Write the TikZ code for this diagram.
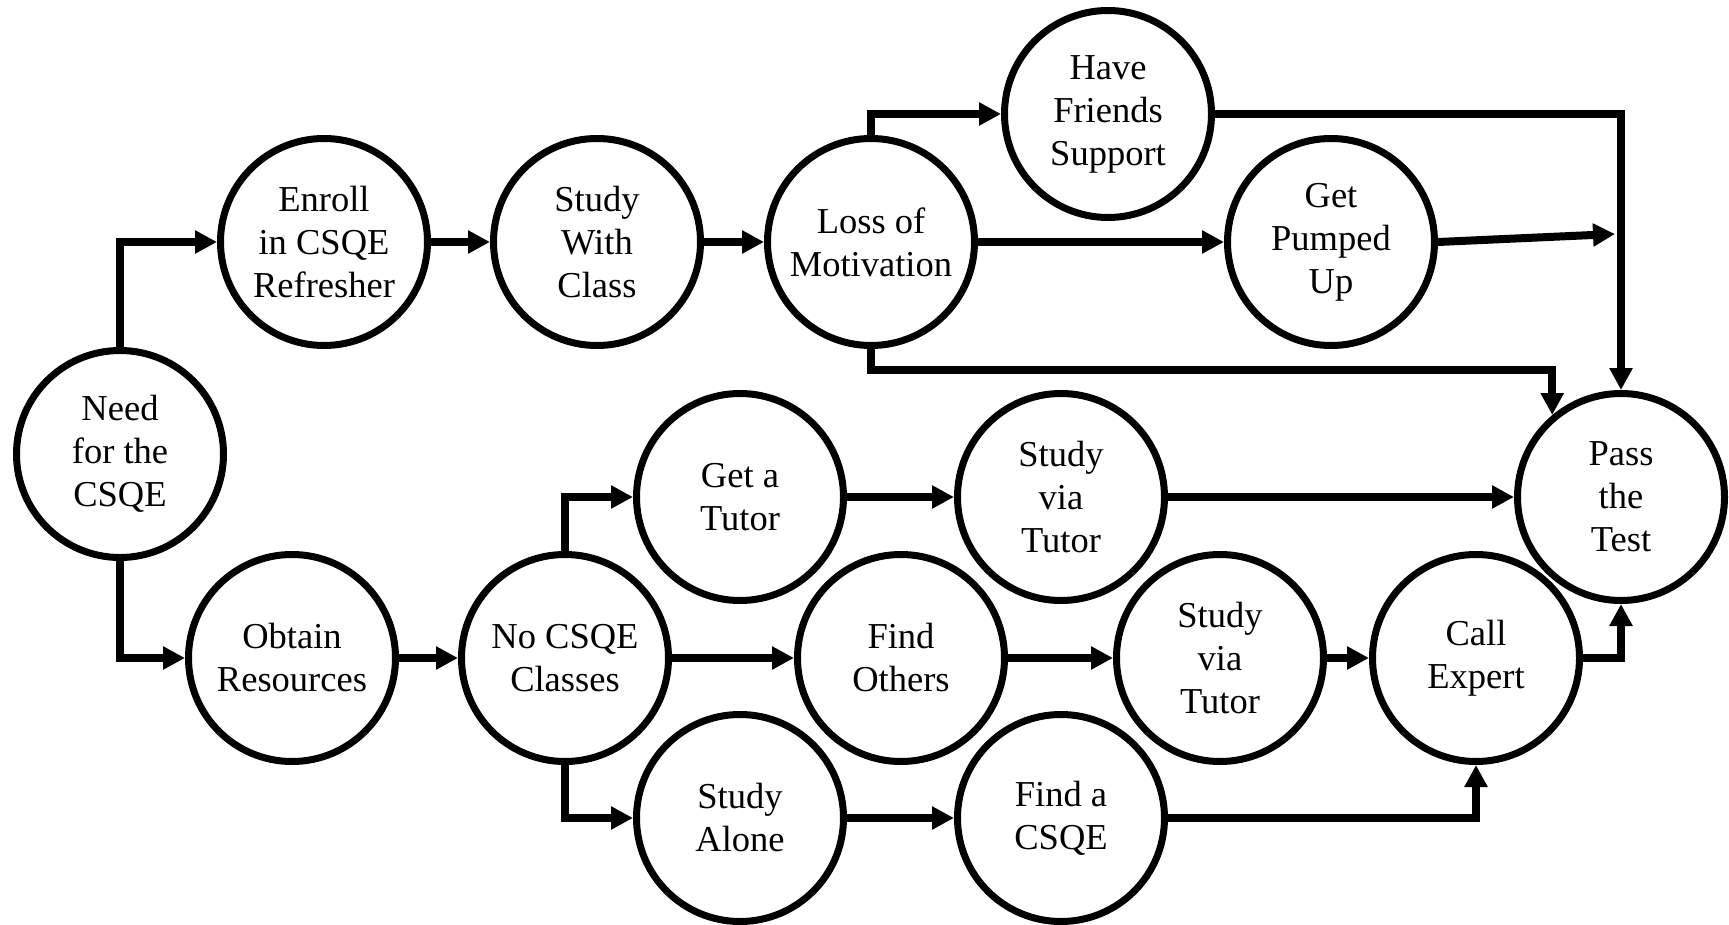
\documentclass[tikz,border=0pt]{standalone}
\usepackage{fontspec}
\setmainfont{Liberation Serif}
\usetikzlibrary{arrows.meta}
\begin{document}
\begin{tikzpicture}[x=1pt,y={(0pt,-1pt)},
  stage/.style={circle, draw=black, line width=7pt, minimum size=207pt,
    inner sep=0pt, align=center, font=\fontsize{36.5}{43}\selectfont},
  conn/.style={line width=8pt, line join=miter,
    -{Triangle[length=22pt,width=22pt]}}]
\useasboundingbox (0,0) rectangle (1729,925);

% stages of the process
\node[stage] (need)     at (120,454)  {Need\\for the\\CSQE};
\node[stage] (enroll)   at (324,242)  {Enroll\\in CSQE\\Refresher};
\node[stage] (withclass) at (597,242) {Study\\With\\Class};
\node[stage] (loss)     at (871,242)  {Loss of\\Motivation};
\node[stage] (friends)  at (1108,114) {Have\\Friends\\Support};
\node[stage] (pumped)   at (1331,242) {Get\\Pumped\\Up};
\node[stage] (pass)     at (1621,497) {Pass\\the\\Test};
\node[stage] (obtain)   at (292,658)  {Obtain\\Resources};
\node[stage] (noclass)  at (565,658)  {No CSQE\\Classes};
\node[stage] (tutor)    at (740,497)  {Get a\\Tutor};
\node[stage] (viatutor) at (1061,497) {Study\\via\\Tutor};
\node[stage] (others)   at (901,658)  {Find\\Others};
\node[stage] (viatutorb) at (1220,658) {Study\\via\\Tutor};
\node[stage] (expert)   at (1476,658) {Call\\Expert};
\node[stage] (alone)    at (740,818)  {Study\\Alone};
\node[stage] (findcsqe) at (1061,818) {Find a\\CSQE};

\coordinate (pumpend) at (1615,234);

% upper branch
\draw[conn] (need.north) |- (enroll.west);
\draw[conn] (enroll) -- (withclass);
\draw[conn] (withclass) -- (loss);
\draw[conn] (loss.north) |- (friends.west);
\draw[conn] (loss) -- (pumped);
\draw[conn] (loss.south) -- ++(0,21) -| (pass.130);
\draw[conn] (friends.east) -| (pass.north);
\draw[conn] (pumped.east) -- (pumpend);

% lower branch
\draw[conn] (need.south) |- (obtain.west);
\draw[conn] (obtain) -- (noclass);
\draw[conn] (noclass.north) |- (tutor.west);
\draw[conn] (noclass) -- (others);
\draw[conn] (noclass.south) |- (alone.west);
\draw[conn] (tutor) -- (viatutor);
\draw[conn] (viatutor) -- (pass);
\draw[conn] (others) -- (viatutorb);
\draw[conn] (viatutorb) -- (expert);
\draw[conn] (alone) -- (findcsqe);
\draw[conn] (findcsqe.east) -| (expert.south);
\draw[conn] (expert.east) -| (pass.south);
\end{tikzpicture}
\end{document}
